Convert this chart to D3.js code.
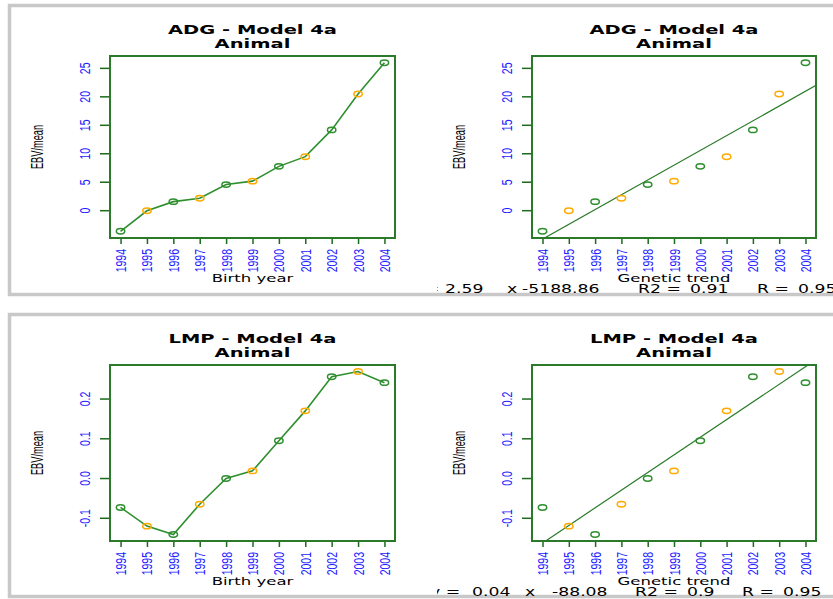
<!DOCTYPE html>
<html lang="en">
  <head>
    <meta charset="UTF-8" />
    <title>ADG / LMP genetic trend</title>
    <style type="text/css">
      body {
        margin: 0;
        background: #ffffff;
      }
      svg {
        display: block;
      }
      .title {
        font-family: "DejaVu Sans", sans-serif;
        font-weight: bold;
        font-size: 13px;
        fill: #000000;
      }
      .xlab, .eq {
        font-family: "DejaVu Sans", sans-serif;
        font-size: 11px;
        fill: #000000;
      }
      .eq {
        font-size: 11.5px;
      }
      .ylab {
        font-family: "Liberation Sans", Arial, sans-serif;
        font-size: 11px;
        fill: #000000;
      }
      .axis text {
        font-family: "Liberation Sans", Arial, sans-serif;
        font-size: 10.5px;
        fill: #1a1aff;
      }
      .axis line {
        stroke: #1d6b1d;
        stroke-width: 1.5px;
      }
    </style>
  </head>
  <body>
    <script src="https://d3js.org/d3.v7.min.js"></script>
    <script>
      var years = [1994, 1995, 1996, 1997, 1998, 1999, 2000, 2001, 2002, 2003, 2004];
      var adgValues = [-3.7, -0.1, 1.5, 2.1, 4.5, 5.1, 7.7, 9.4, 14.1, 20.4, 25.9];
      var lmpValues = [-0.074, -0.121, -0.142, -0.066, -0.001, 0.018, 0.094, 0.169, 0.255, 0.268, 0.24];
      var adgTicks = [0, 5, 10, 15, 20, 25];
      var lmpTicks = [-0.1, 0, 0.1, 0.2];
      // equation text shown under the trend plots (cut on the left like the original)
      var adgEquation = ["y =", "2.59", "x", "-5188.86", "R2 =", "0.91", "R =", "0.95"];
      var lmpEquation = ["y =", "0.04", "x", "-88.08", "R2 =", "0.9", "R =", "0.95"];
      var adgEqX = [409, 445, 507, 522, 638, 690, 757, 798];
      var lmpEqX = [430, 472, 525, 552, 635, 687, 742, 783];

      var width = 833;
      var height = 599;
      var stretch = 1.5;

      var green = "#2f8f2f";
      var orange = "#ffaa00";

      var svg = d3.select("body").append("svg")
        .attr("width", width)
        .attr("height", height);

      // grey frames around each row
      svg.selectAll(".frame")
        .data([[5.5, 294.5], [314.5, 596.5]])
        .join("rect")
        .attr("class", "frame")
        .attr("x", 9.5)
        .attr("y", (d) => d[0])
        .attr("width", 900)
        .attr("height", (d) => d[1] - d[0])
        .attr("fill", "none")
        .attr("stroke", "#c8c8c8")
        .attr("stroke-width", 3.5);

      var rows = [
        { top: 56, bottom: 238 },
        { top: 365, bottom: 541 },
      ];
      var cols = [
        { left: 110, right: 395 },
        { left: 532, right: 816 },
      ];

      var panels = [
        { row: 0, col: 0, values: adgValues, ticks: adgTicks, fmt: (v) => String(v), title: "ADG - Model 4a", xlab: "Birth year", trend: false },
        { row: 0, col: 1, values: adgValues, ticks: adgTicks, fmt: (v) => String(v), title: "ADG - Model 4a", xlab: "Genetic trend", trend: true, eq: adgEquation, eqX: adgEqX },
        { row: 1, col: 0, values: lmpValues, ticks: lmpTicks, fmt: (v) => v.toFixed(1), title: "LMP - Model 4a", xlab: "Birth year", trend: false },
        { row: 1, col: 1, values: lmpValues, ticks: lmpTicks, fmt: (v) => v.toFixed(1), title: "LMP - Model 4a", xlab: "Genetic trend", trend: true, eq: lmpEquation, eqX: lmpEqX },
      ];

      var defs = svg.append("defs");
      defs.append("clipPath").attr("id", "eq-clip")
        .append("rect").attr("x", 437).attr("y", 0).attr("width", 400).attr("height", height);

      panels.forEach(function (p, i) {
        var r = rows[p.row];
        var c = cols[p.col];
        var cx = (c.left + c.right) / 2;

        var x = d3.scaleLinear().domain([1993.6, 2004.4]).range([c.left, c.right]);
        var ext = d3.extent(p.values);
        var pad = (ext[1] - ext[0]) * 0.04;
        var y = d3.scaleLinear().domain([ext[0] - pad, ext[1] + pad]).range([r.bottom, r.top]);

        var g = svg.append("g");

        defs.append("clipPath").attr("id", "box-" + i)
          .append("rect")
          .attr("x", c.left).attr("y", r.top)
          .attr("width", c.right - c.left).attr("height", r.bottom - r.top);

        // titles
        g.selectAll(".title")
          .data([p.title, "Animal"])
          .join("text")
          .attr("class", "title")
          .attr("text-anchor", "middle")
          .attr("transform", (d, k) => `translate(${cx},${r.top - 22 + k * 14}) scale(${stretch},1)`)
          .text((d) => d);

        // y axis
        var yAxis = g.append("g")
          .attr("class", "axis")
          .attr("transform", `translate(${c.left},0)`)
          .call(d3.axisLeft(y).tickValues(p.ticks).tickSize(10).tickFormat(p.fmt));
        yAxis.select(".domain").remove();
        yAxis.selectAll("text")
          .attr("x", null)
          .attr("dy", null)
          .attr("text-anchor", "middle")
          .attr("transform", "translate(-20,0) rotate(-90) scale(1,1.45)");

        // x axis
        var xAxis = g.append("g")
          .attr("class", "axis")
          .attr("transform", `translate(0,${r.bottom})`)
          .call(d3.axisBottom(x).tickValues(years).tickSize(6).tickFormat(d3.format("d")));
        xAxis.select(".domain").remove();
        xAxis.selectAll("text")
          .attr("y", null)
          .attr("dy", null)
          .attr("text-anchor", "end")
          .attr("transform", "translate(5,11) rotate(-90) scale(1,1.35)");

        // axis titles
        g.append("text")
          .attr("class", "ylab")
          .attr("text-anchor", "middle")
          .attr("transform", `translate(${c.left - 67},${(r.top + r.bottom) / 2}) rotate(-90) scale(0.84,1.5)`)
          .text("EBV/mean");

        g.append("text")
          .attr("class", "xlab")
          .attr("text-anchor", "middle")
          .attr("transform", `translate(${cx},${r.bottom + 44}) scale(${stretch},1)`)
          .text(p.xlab);

        var pts = years.map((yr, k) => ({ year: yr, value: p.values[k], odd: k % 2 === 1 }));

        if (p.trend) {
          var mx = d3.mean(years);
          var my = d3.mean(p.values);
          var sxy = d3.sum(pts, (d) => (d.year - mx) * (d.value - my));
          var sxx = d3.sum(years, (yr) => (yr - mx) * (yr - mx));
          var slope = sxy / sxx;
          var icpt = my - slope * mx;
          var dom = x.domain();
          g.append("line")
            .attr("clip-path", `url(#box-${i})`)
            .attr("x1", x(dom[0])).attr("y1", y(icpt + slope * dom[0]))
            .attr("x2", x(dom[1])).attr("y2", y(icpt + slope * dom[1]))
            .attr("stroke", "#287a28")
            .attr("stroke-width", 1.2);

          g.append("g")
            .attr("clip-path", "url(#eq-clip)")
            .selectAll("text")
            .data(p.eq)
            .join("text")
            .attr("class", "eq")
            .attr("transform", (d, k) => `translate(${p.eqX[k]},${r.bottom + 55}) scale(${stretch},1)`)
            .text((d) => d);
        } else {
          g.append("path")
            .datum(pts)
            .attr("fill", "none")
            .attr("stroke", green)
            .attr("stroke-width", 1.6)
            .attr("d", d3.line().x((d) => x(d.year)).y((d) => y(d.value)));
        }

        g.selectAll(".pt")
          .data(pts)
          .join("ellipse")
          .attr("class", "pt")
          .attr("cx", (d) => x(d.year))
          .attr("cy", (d) => y(d.value))
          .attr("rx", 4.2)
          .attr("ry", 2.7)
          .attr("fill", "none")
          .attr("stroke", (d) => (d.odd ? orange : green))
          .attr("stroke-width", 1.5);

        // plot box
        g.append("rect")
          .attr("x", c.left).attr("y", r.top)
          .attr("width", c.right - c.left).attr("height", r.bottom - r.top)
          .attr("fill", "none")
          .attr("stroke", "#2a7a2a")
          .attr("stroke-width", 2);
      });
    </script>
  </body>
</html>
